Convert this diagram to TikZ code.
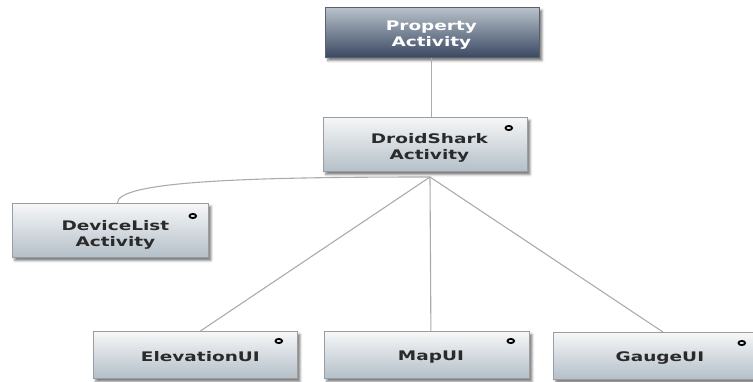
\documentclass[tikz,border=0pt]{standalone}
\usepackage{fontspec}
\newfontfamily\boxfont{DejaVu Sans}[FakeStretch=1.4]
\usetikzlibrary{shadows.blur}

\definecolor{lighttop}{HTML}{F6F7F8}
\definecolor{lightbottom}{HTML}{B4BFC8}
\definecolor{darktop}{HTML}{B8C2CA}
\definecolor{darkbottom}{HTML}{3A4862}
\definecolor{boxline}{HTML}{9A9EA2}
\definecolor{darkline}{HTML}{5A6070}
\definecolor{labelgray}{HTML}{2A2A2A}
\definecolor{wire}{HTML}{ABABAB}

\begin{document}
\begin{tikzpicture}[x=1pt,y=-1pt,
  classbox/.style={draw=boxline, line width=0.8pt, anchor=north west,
    inner sep=0pt, top color=lighttop, bottom color=lightbottom,
    blur shadow={shadow xshift=2.5pt, shadow yshift=-3pt,
      shadow blur radius=2.5pt, shadow opacity=55}},
  rootbox/.style={classbox, draw=darkline,
    top color=darktop, bottom color=darkbottom},
  caption/.style={inner sep=0pt, align=center, text=labelgray,
    font=\boxfont\bfseries\fontsize{13.2}{15.5}\selectfont},
  wirestyle/.style={draw=wire, line width=1.1pt},
  icon/.style={draw=black, line width=1.8pt}
]
\useasboundingbox (0,0) rectangle (753,381);

% class boxes
\node[rootbox, minimum width=214pt, minimum height=50pt] (prop) at (325,7) {};
\node[classbox, minimum width=204pt, minimum height=54pt] (dsa) at (323,117) {};
\node[classbox, minimum width=196pt, minimum height=54pt] (dev) at (12,203) {};
\node[classbox, minimum width=204pt, minimum height=47pt] (elev) at (93,331) {};
\node[classbox, minimum width=205pt, minimum height=47pt] (map) at (324,331) {};
\node[classbox, minimum width=205pt, minimum height=47pt] (gauge) at (553,332) {};

% class names
\node[caption, text=white] (propname) at ([xshift=-1pt,yshift=-2.5pt]prop.center) {Property\\Activity};
\node[caption] (dsaname) at ([xshift=4pt,yshift=-3.5pt]dsa.center) {DroidShark\\Activity};
\node[caption] (devname) at ([xshift=5pt,yshift=-4.5pt]dev.center) {DeviceList\\Activity};
\node[caption] (elevname) at ([xshift=5pt,yshift=-2pt]elev.center) {ElevationUI};
\node[caption] (mapname) at ([xshift=4pt,yshift=-2pt]map.center) {MapUI};
\node[caption] (gaugename) at ([xshift=4pt,yshift=-2pt]gauge.center) {GaugeUI};

% small markers in the upper right corners
\draw[icon] ([xshift=-19pt,yshift=-11pt]dsa.north east) ellipse [x radius=3.3pt, y radius=2.1pt];
\draw[icon] ([xshift=-16pt,yshift=-13pt]dev.north east) ellipse [x radius=3.3pt, y radius=2.1pt];
\draw[icon] ([xshift=-19pt,yshift=-10pt]elev.north east) ellipse [x radius=3.3pt, y radius=2.1pt];
\draw[icon] ([xshift=-19pt,yshift=-10pt]map.north east) ellipse [x radius=3.3pt, y radius=2.1pt];
\draw[icon] ([xshift=-17pt,yshift=-11pt]gauge.north east) ellipse [x radius=3.3pt, y radius=2.1pt];

% connectors
\coordinate (hub) at (430,177);
\draw[wirestyle] ([xshift=-1pt]prop.south) -- ([xshift=6pt]dsa.north);
\draw[wirestyle] (hub) .. controls (250,177) and (117,181) .. ([xshift=7pt]dev.north);
\draw[wirestyle] (hub) -- ([xshift=5pt]elev.north);
\draw[wirestyle] (hub) -- ([xshift=4pt]map.north);
\draw[wirestyle] (hub) -- ([xshift=7pt]gauge.north);
\end{tikzpicture}
\end{document}
